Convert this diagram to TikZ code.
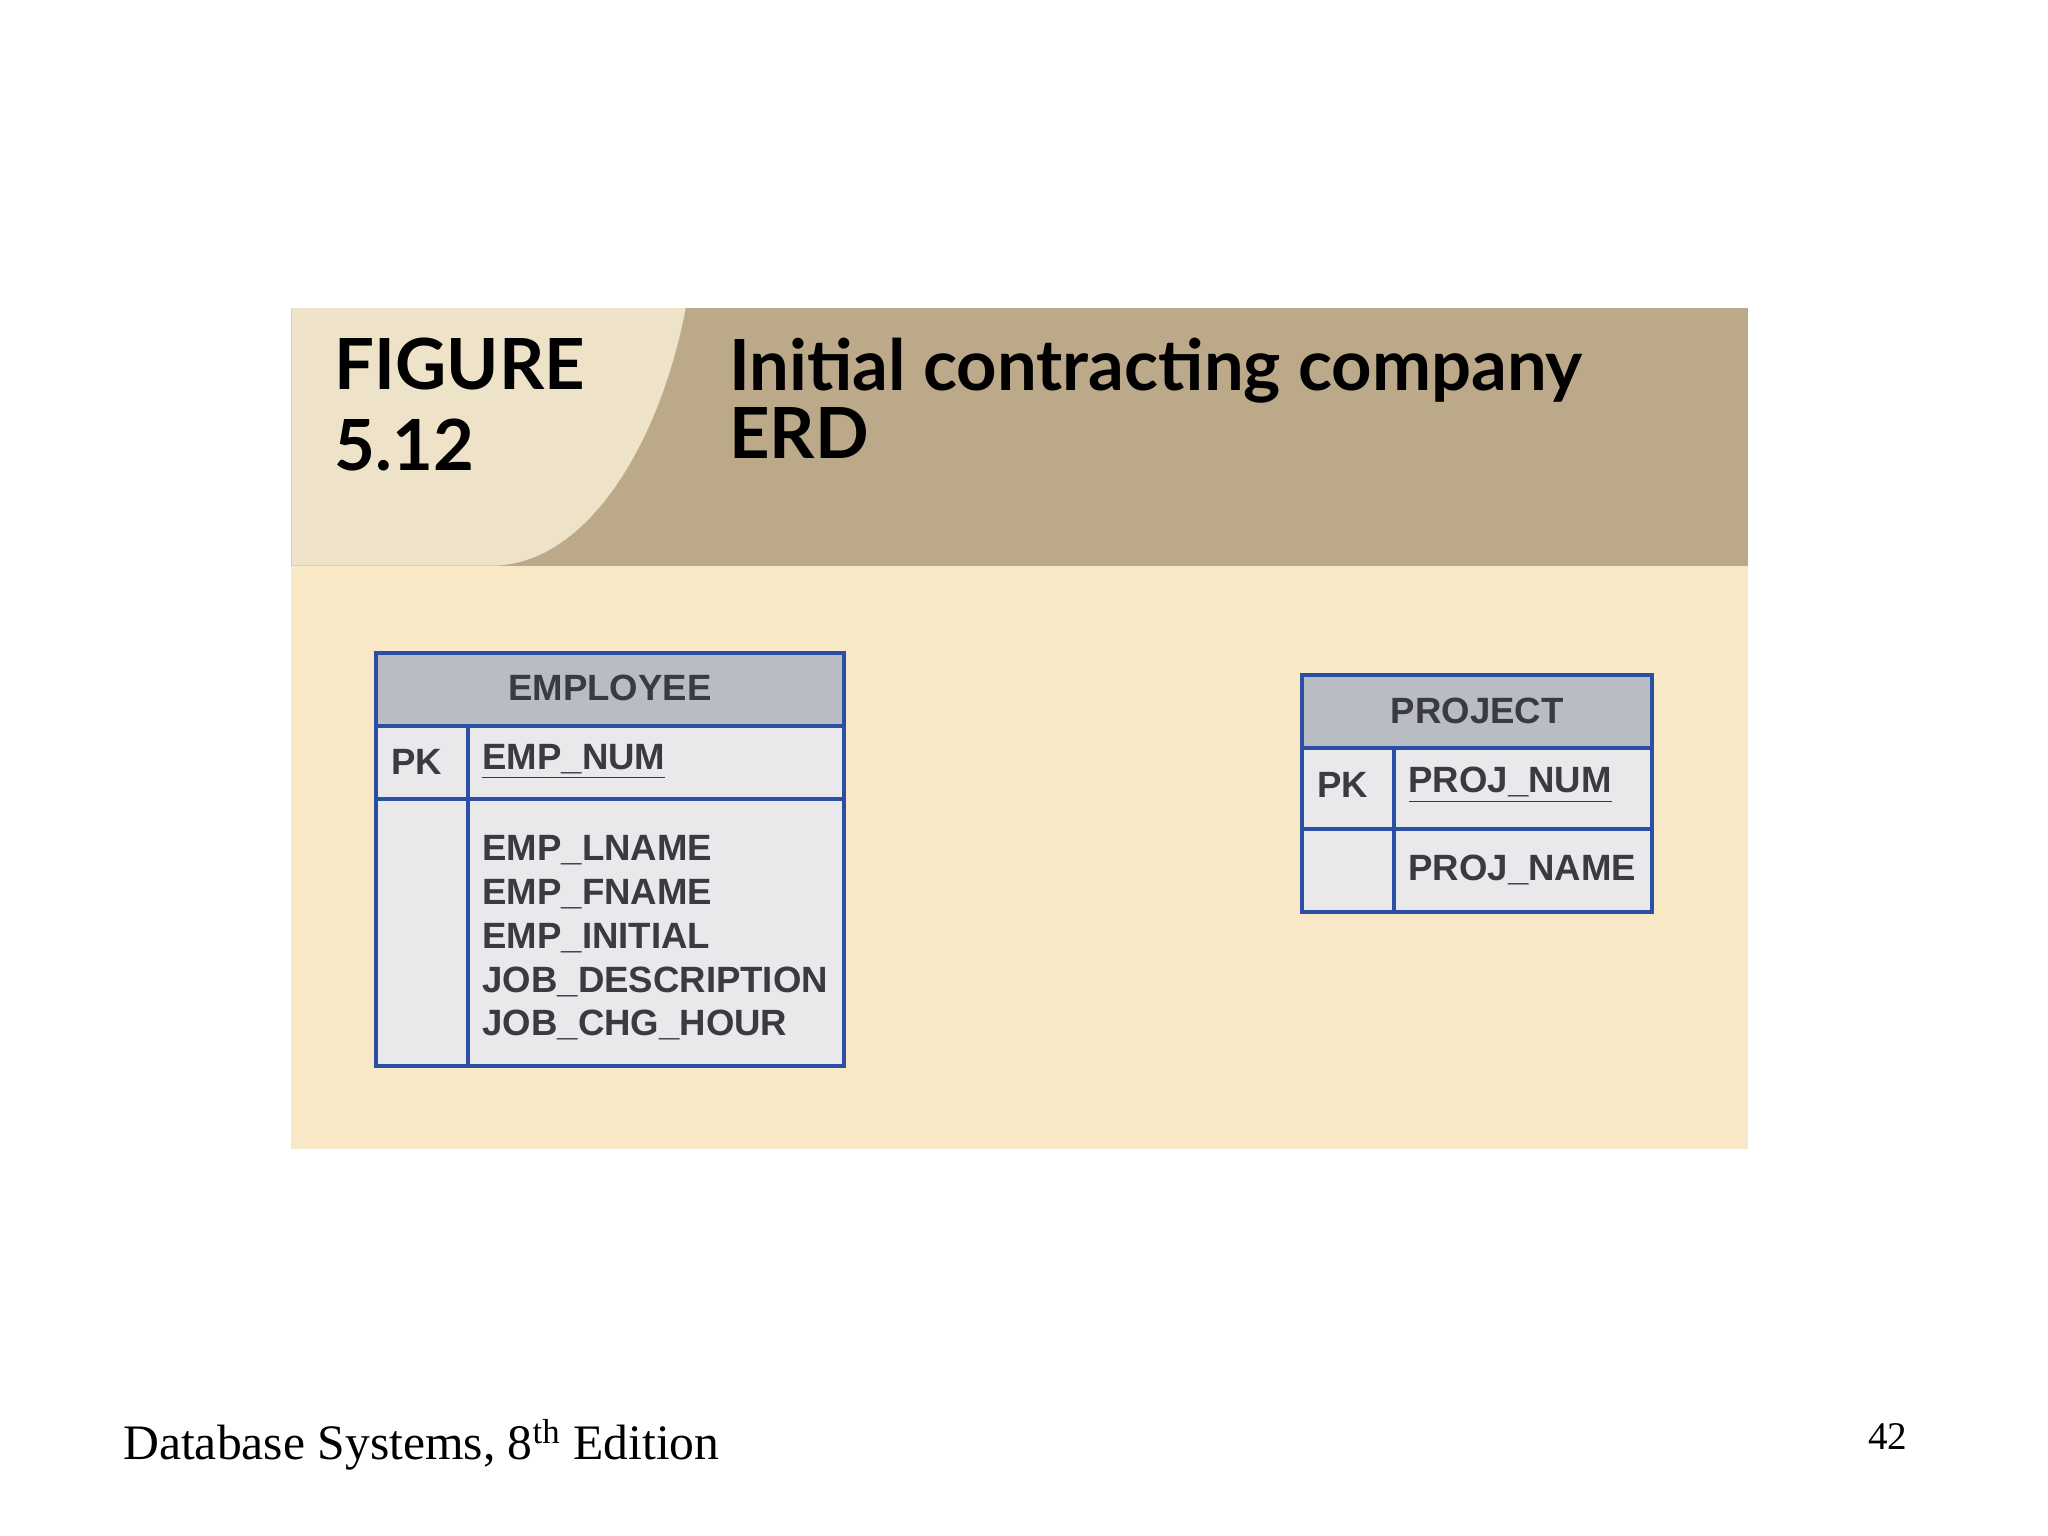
\documentclass[tikz,border=0pt]{standalone}
\usepackage{fontspec}
\setmainfont{Liberation Serif}
\newfontfamily\hdr{Lato}
\newfontfamily\tbl{Liberation Sans}
\definecolor{tanhdr}{HTML}{BBA98A}
\definecolor{lighthdr}{HTML}{EEE2C8}
\definecolor{bodyc}{HTML}{F8E8C6}
\definecolor{tgray}{HTML}{B9BCC3}
\definecolor{tfill}{HTML}{E9E9EC}
\definecolor{tblue}{HTML}{2C4FA6}
\definecolor{ttext}{HTML}{3A3A40}
\begin{document}
\begin{tikzpicture}[x=0.5pt,y=-0.5pt,
  cell/.style={draw=tblue,line width=1.5pt},
  tt/.style={font=\tbl\bfseries\fontsize{14}{16.5}\selectfont,text=ttext,anchor=west,align=left,inner sep=0pt}]
\useasboundingbox (0,0) rectangle (1568,1176);
\fill[white] (0,0) rectangle (1568,1176);
% panel
\fill[bodyc] (223,433) rectangle (1338,880);
\fill[tanhdr] (223,236) rectangle (1338,433);
\fill[lighthdr] (223,236) -- (525,236) .. controls (505,340) and (450,430) .. (380,433) -- (223,433) -- cycle;
\node[font=\hdr\bfseries\fontsize{27}{31}\selectfont,anchor=west,align=left,inner sep=0pt] (fig) at (256,310) {FIGURE\\5.12};
\node[font=\hdr\bfseries\fontsize{27}{26}\selectfont,anchor=west,align=left,inner sep=0pt] (title) at (558,305) {Initial contracting company\\ERD};
% EMPLOYEE
\fill[tgray] (288,500) rectangle (646,556);
\fill[tfill] (288,556) rectangle (646,816);
\draw[cell] (288,500) rectangle (646,816);
\draw[cell] (288,556) -- (646,556);
\draw[cell] (288,612) -- (646,612);
\draw[cell] (358,556) -- (358,816);
\node[tt,anchor=center] (emp) at (467,527) {EMPLOYEE};
\node[tt] (epk) at (299,583) {PK};
\node[tt] (enum) at (369,583) {\underline{EMP\_NUM}};
\node[tt,font=\tbl\bfseries\fontsize{14}{16.8}\selectfont] (eattr) at (369,718) {EMP\_LNAME\\EMP\_FNAME\\EMP\_INITIAL\\JOB\_DESCRIPTION\\JOB\_CHG\_HOUR};
% PROJECT
\fill[tgray] (997,517) rectangle (1265,573);
\fill[tfill] (997,573) rectangle (1265,698);
\draw[cell] (997,517) rectangle (1265,698);
\draw[cell] (997,573) -- (1265,573);
\draw[cell] (997,635) -- (1265,635);
\draw[cell] (1067,573) -- (1067,698);
\node[tt,anchor=center] (proj) at (1131,544) {PROJECT};
\node[tt] (ppk) at (1008,601) {PK};
\node[tt] (pnum) at (1078,601) {\underline{PROJ\_NUM}};
\node[tt] (pname) at (1078,666) {PROJ\_NAME};
% footer
\node[anchor=west,inner sep=0pt,font=\fontsize{19}{22}\selectfont] (foot) at (94,1106) {Database Systems, 8\textsuperscript{th} Edition};
\node[anchor=west,inner sep=0pt,font=\fontsize{15}{18}\selectfont] (pg) at (1430,1100) {42};
\end{tikzpicture}
\end{document}
